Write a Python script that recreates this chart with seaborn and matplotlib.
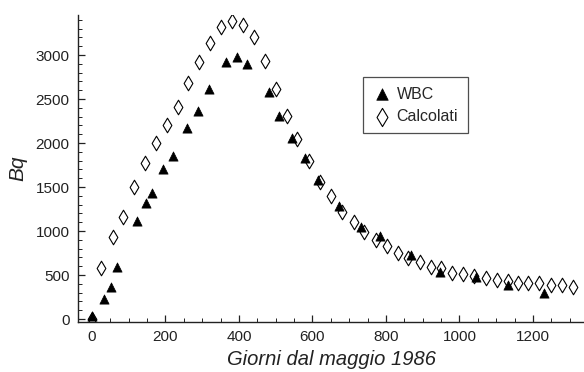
import matplotlib
matplotlib.use("Agg")
import matplotlib.pyplot as plt
from matplotlib.ticker import MultipleLocator
import pandas as pd
import seaborn as sns

# Whole-body counter measurements (days since May 1986, Bq)
wbc_days = [0, 33, 53, 69, 123, 146, 164, 192, 221, 258, 289, 318, 365, 396, 423,
            482, 510, 544, 580, 616, 673, 732, 784, 867, 947, 1044, 1133, 1231]
wbc_bq = [30, 224, 367, 587, 1113, 1322, 1436, 1701, 1852, 2174, 2364, 2610, 2924,
          2973, 2898, 2583, 2307, 2060, 1835, 1580, 1284, 1049, 943, 727, 538, 473,
          386, 299]

# Calculated activity
calc_days = [0, 24, 56, 85, 115, 144, 174, 203, 233, 262, 291, 321, 350, 380, 410,
             441, 471, 501, 530, 557, 591, 620, 650, 681, 713, 740, 772, 802, 832,
             861, 893, 922, 951, 980, 1010, 1040, 1071, 1101, 1131, 1160, 1187, 1217,
             1248, 1278, 1308]
calc_bq = [0, 583, 928, 1163, 1504, 1769, 2004, 2205, 2405, 2685, 2924, 3132, 3322,
           3390, 3341, 3208, 2936, 2610, 2307, 2042, 1795, 1561, 1398, 1220, 1106,
           993, 898, 830, 746, 689, 652, 595, 576, 527, 508, 489, 470, 443, 432, 413,
           413, 405, 386, 386, 367]

series_names = ["WBC", "Calcolati"]
x_label = "Giorni dal maggio 1986"
y_label = "Bq"

wbc = pd.DataFrame({"giorni": wbc_days, "bq": wbc_bq})
calc = pd.DataFrame({"giorni": calc_days, "bq": calc_bq})

sns.set_style("ticks")
plt.rcParams["font.family"] = ["Liberation Sans", "DejaVu Sans"]

fig = plt.figure(figsize=(5.84, 3.72), dpi=100)
ax = fig.add_axes([0.1336, 0.1344, 0.8664, 0.8253])

sns.scatterplot(data=wbc, x="giorni", y="bq", ax=ax, marker="^", s=44,
                color="black", edgecolor="black", linewidth=0.5,
                label=series_names[0], zorder=3)
sns.scatterplot(data=calc, x="giorni", y="bq", ax=ax, marker="d", s=55,
                facecolor="white", edgecolor="black", linewidth=0.8,
                label=series_names[1], zorder=2)

ax.set_xlim(-38, 1339)
ax.set_ylim(-34, 3455)
ax.xaxis.set_major_locator(MultipleLocator(200))
ax.xaxis.set_minor_locator(MultipleLocator(50))
ax.yaxis.set_major_locator(MultipleLocator(500))
ax.yaxis.set_minor_locator(MultipleLocator(100))
ax.set_xticks([0, 200, 400, 600, 800, 1000, 1200])

ax.tick_params(axis="both", which="major", direction="in", length=5, width=0.9,
               labelsize=11, colors="#222222", pad=6)
ax.tick_params(axis="both", which="minor", direction="in", length=3, width=0.7,
               colors="#222222")

for side in ("top", "right"):
    ax.spines[side].set_visible(False)
for side in ("left", "bottom"):
    ax.spines[side].set_linewidth(1.0)
    ax.spines[side].set_color("#222222")

ax.set_xlabel(x_label, fontsize=14.5, fontstyle="italic", color="#222222", labelpad=4)
ax.set_ylabel(y_label, fontsize=15, fontstyle="italic", color="#222222", labelpad=6)

leg = ax.legend(loc="upper left", bbox_to_anchor=(0.563, 0.798), borderaxespad=0,
                fontsize=11.5, frameon=True, fancybox=False, handletextpad=0.3,
                handlelength=1.2, borderpad=0.6, labelspacing=0.45, markerscale=1.25)
leg.get_frame().set_edgecolor("#222222")
leg.get_frame().set_linewidth(0.9)

fig.savefig("out.png", dpi=100)
